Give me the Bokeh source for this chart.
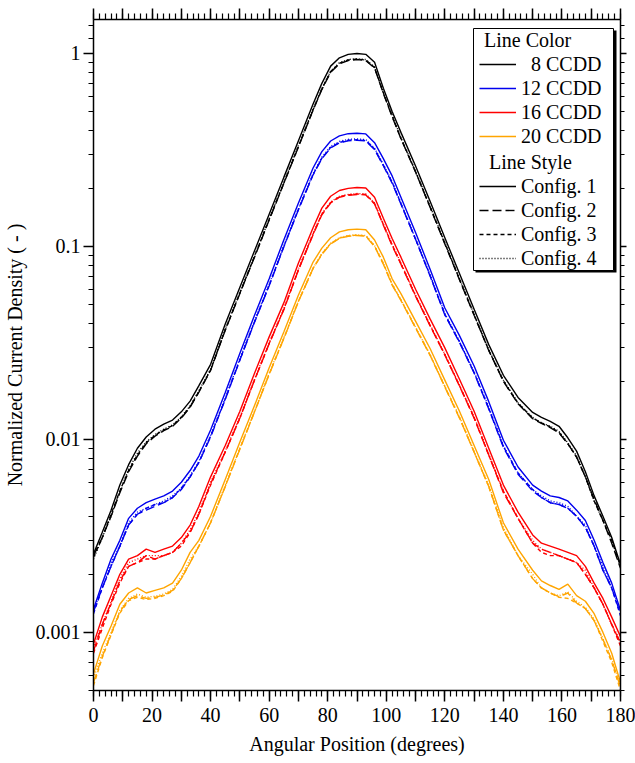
from bokeh.plotting import figure
from bokeh.models import (Range1d, LinearAxis, LogAxis, FixedTicker, NumeralTickFormatter,
                          Legend, LegendItem, BoxAnnotation, CustomLabelingPolicy)
try:
    from bokeh.models import Node
except ImportError:
    from bokeh.models.coordinates import Node
from bokeh.embed import file_html
from bokeh.resources import INLINE

# ---------------- data ----------------
angle = [0, 3, 6, 9, 12, 15, 18, 21, 24, 27, 30, 33, 36,
         40, 45, 50, 55, 60, 65, 70, 75,
         78, 81, 84, 87, 90, 93, 96, 99, 102,
         105, 110, 115, 120, 125, 130, 135, 140, 145, 150,
         153, 156, 159, 162, 165, 168, 171, 174, 177, 180]

ccdd8_cfg1 = [0.00255, 0.0033, 0.0043, 0.0058, 0.0074, 0.0090, 0.0103, 0.0113, 0.0120, 0.0126, 0.0139, 0.0158, 0.0190,
              0.0245, 0.0396, 0.0614, 0.095, 0.147, 0.228, 0.353, 0.547,
              0.70, 0.86, 0.95, 0.99, 1.0, 0.99, 0.90, 0.66, 0.50,
              0.39, 0.261, 0.171, 0.111, 0.0724, 0.0473, 0.031, 0.0215, 0.0165, 0.0138,
              0.0130, 0.0124, 0.0117, 0.0102, 0.0087, 0.0068, 0.0051, 0.0040, 0.0031, 0.00225]
ccdd8_cfg2 = [0.00250, 0.0031, 0.0040, 0.0053, 0.0068, 0.0082, 0.0095, 0.0104, 0.0111, 0.0117, 0.0129, 0.0147, 0.0176,
              0.0228, 0.0368, 0.0571, 0.088, 0.137, 0.212, 0.328, 0.509,
              0.65, 0.80, 0.885, 0.92, 0.93, 0.92, 0.84, 0.62, 0.47,
              0.362, 0.243, 0.159, 0.103, 0.0673, 0.0440, 0.0289, 0.0200, 0.0153, 0.0128,
              0.0121, 0.0115, 0.0108, 0.0095, 0.0081, 0.0064, 0.0049, 0.0038, 0.0029, 0.00215]
ccdd8_cfg3 = [0.00245, 0.0031, 0.0041, 0.0054, 0.0069, 0.0083, 0.0096, 0.0105, 0.0112, 0.0118, 0.0130, 0.0148, 0.0177,
              0.0229, 0.0370, 0.0574, 0.089, 0.138, 0.213, 0.330, 0.511,
              0.655, 0.805, 0.89, 0.925, 0.935, 0.925, 0.845, 0.625, 0.475,
              0.364, 0.244, 0.160, 0.104, 0.0677, 0.0442, 0.0290, 0.0201, 0.0154, 0.0129,
              0.0122, 0.0116, 0.0109, 0.0095, 0.0081, 0.0064, 0.0048, 0.0038, 0.0030, 0.0022]
ccdd8_cfg4 = [0.00240, 0.0031, 0.0040, 0.0054, 0.0070, 0.0085, 0.0097, 0.0106, 0.0113, 0.0119, 0.0131, 0.0149, 0.0179,
              0.0231, 0.0373, 0.0578, 0.089, 0.139, 0.215, 0.333, 0.515,
              0.66, 0.81, 0.895, 0.93, 0.94, 0.93, 0.85, 0.63, 0.48,
              0.366, 0.246, 0.161, 0.105, 0.0682, 0.0445, 0.0292, 0.0203, 0.0155, 0.0130,
              0.0122, 0.0117, 0.0110, 0.0096, 0.0082, 0.0064, 0.0048, 0.0038, 0.0030, 0.0022]

ccdd12_cfg1 = [0.00132, 0.0018, 0.0024, 0.0030, 0.0039, 0.0044, 0.0047, 0.0049, 0.0051, 0.0054, 0.0060, 0.0069, 0.0082,
               0.0112, 0.0175, 0.028, 0.044, 0.068, 0.108, 0.168, 0.255,
               0.31, 0.352, 0.374, 0.384, 0.386, 0.383, 0.345, 0.285, 0.232,
               0.18, 0.118, 0.076, 0.048, 0.0345, 0.024, 0.0157, 0.0099, 0.0072, 0.0058,
               0.0054, 0.0051, 0.0050, 0.0048, 0.0043, 0.0038, 0.0030, 0.0023, 0.0018, 0.0013]
ccdd12_cfg2 = [0.00128, 0.0017, 0.0022, 0.0028, 0.0036, 0.0041, 0.0043, 0.0045, 0.0047, 0.0050, 0.0055, 0.0064, 0.0076,
               0.0103, 0.0161, 0.0258, 0.0405, 0.0626, 0.0994, 0.155, 0.235,
               0.285, 0.324, 0.344, 0.353, 0.355, 0.352, 0.318, 0.262, 0.213,
               0.166, 0.109, 0.070, 0.0442, 0.0318, 0.0221, 0.0144, 0.0091, 0.0066, 0.0054,
               0.0050, 0.0047, 0.0046, 0.0044, 0.0040, 0.0035, 0.0028, 0.0021, 0.0017, 0.00125]
ccdd12_cfg3 = [0.00125, 0.0017, 0.0022, 0.0028, 0.0036, 0.0041, 0.0044, 0.0046, 0.0047, 0.0050, 0.0056, 0.0064, 0.0076,
               0.0104, 0.0162, 0.0259, 0.0407, 0.0629, 0.0999, 0.156, 0.236,
               0.287, 0.326, 0.346, 0.355, 0.357, 0.354, 0.320, 0.264, 0.215,
               0.167, 0.109, 0.0705, 0.0445, 0.0320, 0.0222, 0.0145, 0.0092, 0.0067, 0.0055,
               0.0050, 0.0047, 0.0046, 0.0044, 0.0040, 0.0035, 0.0028, 0.0021, 0.0017, 0.00122]
ccdd12_cfg4 = [0.00130, 0.0017, 0.0023, 0.0028, 0.0037, 0.0042, 0.0044, 0.0046, 0.0048, 0.0051, 0.0056, 0.0065, 0.0077,
               0.0105, 0.0164, 0.0262, 0.0412, 0.0636, 0.101, 0.157, 0.239,
               0.290, 0.330, 0.350, 0.359, 0.361, 0.358, 0.323, 0.266, 0.217,
               0.168, 0.110, 0.0711, 0.0449, 0.0323, 0.0224, 0.0147, 0.0093, 0.0067, 0.0055,
               0.0051, 0.0048, 0.0047, 0.0045, 0.0040, 0.0036, 0.0028, 0.0022, 0.0017, 0.00128]

ccdd16_cfg1 = [0.00087, 0.0012, 0.00155, 0.0020, 0.0024, 0.0025, 0.0027, 0.0026, 0.0027, 0.0028, 0.0031, 0.0036, 0.0045,
               0.0064, 0.0093, 0.0140, 0.0220, 0.034, 0.051, 0.082, 0.125,
               0.158, 0.182, 0.195, 0.200, 0.202, 0.201, 0.180, 0.140, 0.110,
               0.088, 0.060, 0.042, 0.0298, 0.0205, 0.0140, 0.0090, 0.0058, 0.0042, 0.0032,
               0.0029, 0.0028, 0.0027, 0.0026, 0.0025, 0.0022, 0.0018, 0.0015, 0.0012, 0.00095]
ccdd16_cfg2 = [0.00080, 0.0011, 0.00142, 0.00185, 0.0022, 0.0023, 0.0025, 0.0024, 0.0025, 0.0026, 0.0029, 0.0033, 0.0041,
               0.0059, 0.0086, 0.0129, 0.0203, 0.0313, 0.047, 0.0755, 0.115,
               0.146, 0.168, 0.180, 0.184, 0.186, 0.185, 0.166, 0.129, 0.101,
               0.081, 0.0552, 0.0387, 0.0274, 0.0189, 0.0129, 0.0083, 0.0053, 0.0039, 0.0029,
               0.0027, 0.0026, 0.0025, 0.0024, 0.0023, 0.0020, 0.0017, 0.0014, 0.0011, 0.00088]
ccdd16_cfg3 = [0.00078, 0.00105, 0.00140, 0.0018, 0.0022, 0.0023, 0.0024, 0.0024, 0.0025, 0.0026, 0.0028, 0.0033, 0.0041,
               0.0058, 0.0086, 0.0129, 0.0203, 0.0314, 0.0472, 0.0758, 0.116,
               0.147, 0.169, 0.181, 0.185, 0.187, 0.186, 0.167, 0.130, 0.102,
               0.0814, 0.0555, 0.0389, 0.0275, 0.0190, 0.0130, 0.0083, 0.0054, 0.0039, 0.0029,
               0.0026, 0.0025, 0.0025, 0.0024, 0.0023, 0.0020, 0.0017, 0.0014, 0.0011, 0.00085]
ccdd16_cfg4 = [0.00083, 0.0011, 0.00145, 0.0019, 0.0023, 0.0024, 0.0025, 0.0025, 0.0025, 0.0026, 0.0029, 0.0034, 0.0042,
               0.0060, 0.0087, 0.0131, 0.0205, 0.0317, 0.0476, 0.0765, 0.117,
               0.148, 0.170, 0.182, 0.186, 0.188, 0.187, 0.168, 0.131, 0.103,
               0.082, 0.056, 0.0392, 0.0277, 0.0191, 0.0131, 0.0084, 0.0054, 0.0039, 0.0030,
               0.0027, 0.0026, 0.0025, 0.0024, 0.0023, 0.0021, 0.0017, 0.0014, 0.0011, 0.00090]

ccdd20_cfg1 = [0.00061, 0.00085, 0.00108, 0.0014, 0.0016, 0.0017, 0.0016, 0.00165, 0.0017, 0.0018, 0.0021, 0.0026, 0.0030,
               0.0040, 0.0062, 0.0097, 0.0150, 0.0235, 0.036, 0.056, 0.083,
               0.098, 0.111, 0.119, 0.122, 0.123, 0.122, 0.108, 0.088, 0.068,
               0.057, 0.041, 0.0295, 0.0203, 0.0140, 0.0093, 0.0062, 0.0037, 0.0027, 0.0021,
               0.00185, 0.00175, 0.00167, 0.00178, 0.00155, 0.00145, 0.00125, 0.0010, 0.00078, 0.00055]
ccdd20_cfg2 = [0.00055, 0.00075, 0.00098, 0.00128, 0.00148, 0.00155, 0.00150, 0.00152, 0.00156, 0.00165, 0.0019, 0.0023, 0.0028,
               0.0037, 0.0057, 0.0089, 0.0139, 0.0217, 0.0333, 0.0518, 0.0768,
               0.091, 0.103, 0.110, 0.113, 0.114, 0.113, 0.100, 0.081, 0.063,
               0.0525, 0.0378, 0.0272, 0.0187, 0.0129, 0.0086, 0.0057, 0.0034, 0.0025, 0.0019,
               0.0017, 0.0016, 0.00153, 0.0016, 0.00142, 0.00133, 0.00115, 0.00092, 0.00072, 0.00052]
ccdd20_cfg3 = [0.00053, 0.00074, 0.00097, 0.00126, 0.00146, 0.00152, 0.00148, 0.00150, 0.00155, 0.00163, 0.0019, 0.0023, 0.0028,
               0.0037, 0.0057, 0.0090, 0.0139, 0.0218, 0.0334, 0.052, 0.077,
               0.0915, 0.1035, 0.1105, 0.1135, 0.1145, 0.1135, 0.1005, 0.0815, 0.0635,
               0.0528, 0.038, 0.0273, 0.0188, 0.0130, 0.0086, 0.0057, 0.0034, 0.0025, 0.0019,
               0.0017, 0.0016, 0.00152, 0.0015, 0.00142, 0.00133, 0.00115, 0.00090, 0.00070, 0.00050]
ccdd20_cfg4 = [0.00058, 0.00078, 0.00100, 0.0013, 0.0015, 0.00158, 0.00152, 0.00154, 0.00158, 0.00167, 0.00195, 0.0024, 0.0028,
               0.0037, 0.0058, 0.0090, 0.0140, 0.022, 0.0336, 0.0522, 0.0773,
               0.092, 0.104, 0.111, 0.114, 0.115, 0.114, 0.101, 0.082, 0.064,
               0.053, 0.0382, 0.0275, 0.0189, 0.0131, 0.0087, 0.0058, 0.0035, 0.0025, 0.0020,
               0.0017, 0.0016, 0.00155, 0.00162, 0.00145, 0.00135, 0.00117, 0.00093, 0.00073, 0.00053]

color_labels = ["\u00a0\u00a08 CCDD", "12 CCDD", "16 CCDD", "20 CCDD"]
style_labels = ["Config. 1", "Config. 2", "Config. 3", "Config. 4"]
x_tick_values = list(range(0, 181, 10))
y_tick_values = [0.001, 0.01, 0.1, 1]

series = {
    0: [ccdd8_cfg1, ccdd8_cfg2, ccdd8_cfg3, ccdd8_cfg4],
    1: [ccdd12_cfg1, ccdd12_cfg2, ccdd12_cfg3, ccdd12_cfg4],
    2: [ccdd16_cfg1, ccdd16_cfg2, ccdd16_cfg3, ccdd16_cfg4],
    3: [ccdd20_cfg1, ccdd20_cfg2, ccdd20_cfg3, ccdd20_cfg4],
}
for k, arrs in series.items():
    for a in arrs:
        assert len(a) == len(angle), (k, len(a))

# ---------------- styling ----------------
FONT = "Liberation Serif"
FS = "20px"
COLORS = ["black", "#0000ee", "#ff0000", "#ffa500"]
DASHES = ["solid", "9 4", "4 3", "1 2"]

FRAME_W = 527
p = figure(frame_width=FRAME_W, frame_height=671,
           x_range=Range1d(0, 180), y_range=Range1d(0.0005, 1.5),
           y_axis_type="log", output_backend="svg", toolbar_location=None,
           min_border_left=88, min_border_right=16, min_border_top=19, min_border_bottom=0)
p.outline_line_color = None
p.grid.visible = False
p.background_fill_color = "white"
p.border_fill_color = "white"

x_minor = list(range(0, 181, 2))
y_minor = [m * 10.0 ** e for e in range(-4, 1) for m in range(2, 10)] + [1.2, 1.4]

hide_all = CustomLabelingPolicy(code="for (let i = 0; i < indices.size; i++) { indices.unset(i) }\nreturn indices")
hide_odd = CustomLabelingPolicy(code="for (let i = 1; i < indices.size; i += 2) { indices.unset(i) }\nreturn indices")


def style_axis(ax, major_len, minor_len):
    ax.axis_line_color = "black"
    ax.axis_line_width = 1.5
    ax.major_tick_line_color = "black"
    ax.major_tick_line_width = 1.5
    ax.minor_tick_line_color = "black"
    ax.minor_tick_line_width = 1.2
    ax.major_tick_in = 0
    ax.minor_tick_in = 0
    ax.major_tick_out = major_len
    ax.minor_tick_out = minor_len
    ax.major_label_text_font = FONT
    ax.major_label_text_font_size = FS
    ax.major_label_text_color = "black"
    ax.axis_label_text_font = FONT
    ax.axis_label_text_font_size = FS
    ax.axis_label_text_font_style = "normal"
    ax.axis_label_text_color = "black"


xax = p.below[0]
xax.ticker = FixedTicker(ticks=x_tick_values, minor_ticks=x_minor)
xax.major_label_policy = hide_odd
xax.axis_label = "Angular Position (degrees)"
style_axis(xax, 11, 6)
xax.major_label_standoff = 6
xax.axis_label_standoff = 8

yax = p.left[0]
yax.ticker = FixedTicker(ticks=y_tick_values, minor_ticks=y_minor)
yax.formatter = NumeralTickFormatter(format="0.[000]")
yax.axis_label = "Normalized Current Density ( - )"
style_axis(yax, 10, 5)
yax.major_label_standoff = 3
yax.axis_label_standoff = 7

top = LinearAxis(ticker=FixedTicker(ticks=x_tick_values, minor_ticks=x_minor))
style_axis(top, 11, 6)
top.major_label_text_font_size = "1px"
top.major_label_standoff = 0
top.major_label_policy = hide_all
p.add_layout(top, "above")

right = LogAxis(ticker=FixedTicker(ticks=y_tick_values, minor_ticks=y_minor))
style_axis(right, 6, 4)
right.major_label_text_font_size = "1px"
right.major_label_standoff = 0
right.major_label_policy = hide_all
p.add_layout(right, "right")

# ---------------- lines ----------------
renderers = {}
for ci in range(4):
    for cfg in (3, 2, 1, 0):
        r = p.line(angle, series[ci][cfg], line_color=COLORS[ci], line_width=1.4,
                   line_dash=DASHES[cfg])
        renderers[(ci, cfg)] = r

# ---------------- legend box (frame + drop shadow), anchored to the frame's top-right ----------------
def fnode(symbol, offset):
    return Node(target="frame", symbol=symbol, offset=offset)


BOX_L = FRAME_W - 147
BOX_R = FRAME_W - 7
shadow = BoxAnnotation(left=fnode("left", BOX_L + 2), right=fnode("left", BOX_R + 3),
                       top=fnode("top", 11), bottom=fnode("top", 253),
                       fill_color="black", fill_alpha=1.0, line_alpha=0)
frame_box = BoxAnnotation(left=fnode("left", BOX_L), right=fnode("left", BOX_R),
                          top=fnode("top", 9), bottom=fnode("top", 251),
                          fill_color="white", fill_alpha=1.0,
                          line_color="black", line_width=1, line_alpha=1.0)
p.add_layout(shadow)
p.add_layout(frame_box)


def make_legend(title, items, loc):
    return Legend(items=items, title=title, location=loc,
                  label_text_font=FONT, label_text_font_size=FS, label_text_color="black",
                  title_text_font=FONT, title_text_font_size=FS, title_text_font_style="normal",
                  title_text_color="black", title_standoff=0,
                  glyph_width=37, glyph_height=24, label_height=24, label_standoff=5,
                  spacing=0, padding=2, margin=0,
                  border_line_alpha=0, background_fill_alpha=0)


color_items = [LegendItem(label=color_labels[i], renderers=[renderers[(i, 0)]]) for i in range(4)]
style_items = [LegendItem(label=style_labels[j], renderers=[renderers[(0, j)]]) for j in range(4)]

leg1 = make_legend("\u00a0Line Color", color_items, (BOX_L + 4, 540))
leg2 = make_legend("\u00a0\u00a0Line Style", style_items, (BOX_L + 4, 418))
p.add_layout(leg1)
p.add_layout(leg2)

open("out.html", "w").write(file_html(p, INLINE))
